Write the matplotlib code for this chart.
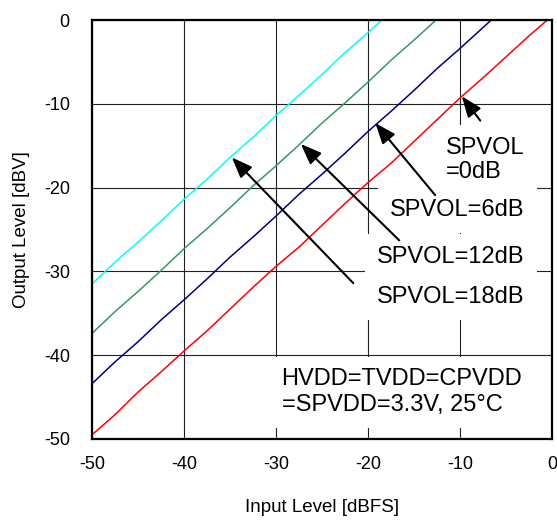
# ==========================================================
# SPVOL - OUTPUT LEVEL x INPUT LEVEL
# ==========================================================

import matplotlib
matplotlib.use("Agg")
import matplotlib.pyplot as plt

# ==========================================================
# CONFIGURACOES
# ==========================================================

plt.rcParams["font.family"] = ["Liberation Sans", "DejaVu Sans"]
plt.rcParams["axes.unicode_minus"] = False

# ==========================================================
# DADOS
# ==========================================================

entrada_0db = [-50, -47.5, -45, -42.5, -40, -37.5, -35, -32.5, -30, -27.5,
               -25, -22.5, -20, -17.5, -15, -12.5, -10, -7.5, -5, -2.5, -0.5]
saida_0db = [-49.5, -47.1, -44.4, -42.0, -39.5, -37.1, -34.5, -31.9, -29.4, -27.1,
             -24.5, -21.9, -19.4, -17.1, -14.5, -11.9, -9.3, -6.9, -4.4, -1.9, 0]

entrada_6db = [-50, -47.5, -45, -42.5, -40, -37.5, -35, -32.5, -30, -27.5,
               -25, -22.5, -20, -17.5, -15, -12.5, -10, -6.6]
saida_6db = [-43.4, -40.8, -38.4, -35.8, -33.4, -30.9, -28.3, -25.9, -23.4, -20.8,
             -18.4, -15.9, -13.3, -10.9, -8.4, -5.8, -3.4, 0]

entrada_12db = [-50, -47.5, -45, -42.5, -40, -37.5, -35, -32.5, -30, -27.5,
                -25, -22.5, -20, -17.5, -15, -12.6]
saida_12db = [-37.4, -34.8, -32.4, -29.9, -27.3, -24.9, -22.4, -19.8, -17.4, -14.9,
              -12.3, -9.9, -7.4, -4.8, -2.4, 0]

entrada_18db = [-50, -47.5, -45, -42.5, -40, -37.5, -35, -32.5, -30, -27.5,
                -25, -22.5, -20, -18.5]
saida_18db = [-31.5, -28.9, -26.5, -24.0, -21.4, -19.0, -16.4, -14.0, -11.4, -9.0,
              -6.5, -3.9, -1.5, 0]

ticks_x = [-50, -40, -30, -20, -10, 0]
ticks_y = [-50, -40, -30, -20, -10, 0]

# ==========================================================
# GRAFICO
# ==========================================================

def grafico():

    fig = plt.figure(figsize=(5.57, 5.21), dpi=100)

    ax = fig.add_axes([0.1652, 0.1574, 0.8258, 0.8042])

    ax.plot(entrada_0db, saida_0db, color="#FF0000", lw=1.1, zorder=2)
    ax.plot(entrada_6db, saida_6db, color="#000080", lw=1.1, zorder=2)
    ax.plot(entrada_12db, saida_12db, color="#339966", lw=1.1, zorder=2)
    ax.plot(entrada_18db, saida_18db, color="#00FFFF", lw=1.1, zorder=2)

    ax.set_xlim(-50, 0)
    ax.set_ylim(-50, 0)
    ax.set_xticks(ticks_x)
    ax.set_yticks(ticks_y)

    ax.grid(True, color="#222222", lw=0.8, zorder=1)
    ax.set_axisbelow(True)

    ax.tick_params(direction="in", length=0, labelsize=13)
    ax.tick_params(axis="x", pad=12)
    ax.tick_params(axis="y", pad=16)

    for spine in ax.spines.values():
        spine.set_linewidth(1.6)
        spine.set_color("black")

    ax.set_xlabel("Input Level [dBFS]", fontsize=13.5, labelpad=19)
    ax.set_ylabel("Output Level [dBV]", fontsize=13.5, labelpad=10)

    caixa = dict(boxstyle="square,pad=0.5", facecolor="white", edgecolor="none")

    ax.text(-11.5, -16.7, "SPVOL\n=0dB", fontsize=17, ha="left", va="center",
            linespacing=1.1, bbox=caixa, zorder=3)
    ax.text(-17.6, -22.7, "SPVOL=6dB", fontsize=17, ha="left", va="center",
            bbox=caixa, zorder=3)
    ax.text(-19.0, -28.3, "SPVOL=12dB", fontsize=17, ha="left", va="center",
            bbox=caixa, zorder=3)
    ax.text(-19.0, -33.1, "SPVOL=18dB", fontsize=17, ha="left", va="center",
            bbox=caixa, zorder=3)
    ax.text(-29.4, -44.4, "HVDD=TVDD=CPVDD\n=SPVDD=3.3V, 25\u00b0C", fontsize=17,
            ha="left", va="center", bbox=caixa, zorder=3)

    seta = dict(arrowstyle="-|>,head_length=0.9,head_width=0.35",
                mutation_scale=14, lw=1.5, color="black",
                shrinkA=0, shrinkB=0)

    setas = [
        ((-9.8, -9.1), (-7.8, -12.0)),
        ((-19.2, -12.3), (-12.7, -20.9)),
        ((-27.3, -14.8), (-16.6, -26.3)),
        ((-34.8, -16.4), (-21.6, -31.4)),
    ]

    for ponta, cauda in setas:
        ax.annotate("", xy=ponta, xytext=cauda, arrowprops=seta, zorder=4)

    fig.savefig("out.png", dpi=100)

# ==========================================================
# PROGRAMA PRINCIPAL
# ==========================================================

def main():

    grafico()

if __name__ == "__main__":

    main()
